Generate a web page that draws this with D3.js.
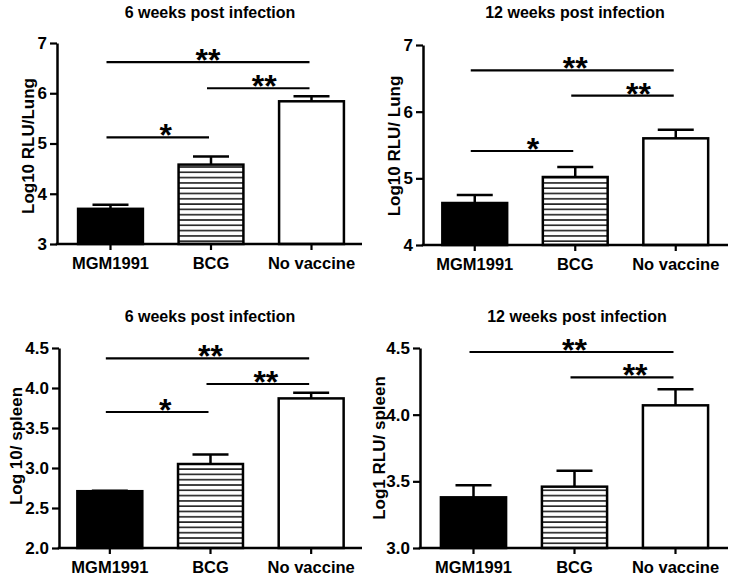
<!DOCTYPE html>
<html>
<head>
<meta charset="utf-8">
<script src="https://cdn.jsdelivr.net/npm/d3@7"></script>
<style>
  html, body { margin: 0; padding: 0; background: #fff; }
  svg { display: block; }
  text { font-family: "Liberation Sans", Arial, sans-serif; font-weight: bold; fill: #000; }
</style>
</head>
<body>
<svg id="chart" width="735" height="578"></svg>
<script>
// ---------- data ----------
const categories = ["MGM1991", "BCG", "No vaccine"];
const titles = ["6 weeks post infection", "12 weeks post infection", "6 weeks post infection", "12 weeks post infection"];
const yLabels = ["Log10 RLU/Lung", "Log10 RLU/ Lung", "Log 10/ spleen", "Log1 RLU/ spleen"];

const lung6Mean = [3.70, 4.58, 5.84];
const lung6Err  = [0.08, 0.16, 0.10];
const lung12Mean = [4.63, 5.02, 5.60];
const lung12Err  = [0.12, 0.15, 0.13];
const spleen6Mean = [2.71, 3.05, 3.87];
const spleen6Err  = [0.005, 0.12, 0.07];
const spleen12Mean = [3.38, 3.46, 4.07];
const spleen12Err  = [0.09, 0.12, 0.12];

const lung6Ticks = [3, 4, 5, 6, 7];
const lung12Ticks = [4, 5, 6, 7];
const spleen6Ticks = [2.0, 2.5, 3.0, 3.5, 4.0, 4.5];
const spleen12Ticks = [3.0, 3.5, 4.0, 4.5];

// significance brackets: from/to category index, level (data units), label, label position (category index units)
const lung6Sig = [
  { from: 0, to: 2, level: 6.62, label: "**", at: 0.97 },
  { from: 1, to: 2, level: 6.10, label: "**", at: 1.53 },
  { from: 0, to: 1, level: 5.12, label: "*",  at: 0.55 }
];
const lung12Sig = [
  { from: 0, to: 2, level: 6.62, label: "**", at: 1.0 },
  { from: 1, to: 2, level: 6.24, label: "**", at: 1.63 },
  { from: 0, to: 1, level: 5.41, label: "*",  at: 0.58 }
];
const spleen6Sig = [
  { from: 0, to: 2, level: 4.37, label: "**", at: 1.0 },
  { from: 1, to: 2, level: 4.05, label: "**", at: 1.55 },
  { from: 0, to: 1, level: 3.70, label: "*",  at: 0.55 }
];
const spleen12Sig = [
  { from: 0, to: 2, level: 4.47, label: "**", at: 1.0 },
  { from: 1, to: 2, level: 4.28, label: "**", at: 1.6 }
];

// ---------- layout ----------
const svg = d3.select("#chart");
const defs = svg.append("defs");
const pat = defs.append("pattern")
  .attr("id", "hatch").attr("patternUnits", "userSpaceOnUse")
  .attr("width", 10).attr("height", 5.3);
pat.append("rect").attr("width", 10).attr("height", 5.3).attr("fill", "#fff");
pat.append("rect").attr("y", 2).attr("width", 10).attr("height", 1.4).attr("fill", "#000");

const fills = ["#000", "url(#hatch)", "#fff"];

const panels = [
  { mean: lung6Mean, err: lung6Err, sig: lung6Sig, ticks: lung6Ticks, fmt: d3.format("d"),
    dom: [3, 7], ax: 57, axEnd: 362, yB: 244, yT: 43, band: [60.25, 361.75],
    titleX: 210, titleY: 18, ylX: 34, ylY: 146, title: titles[0], yl: yLabels[0] },
  { mean: lung12Mean, err: lung12Err, sig: lung12Sig, ticks: lung12Ticks, fmt: d3.format("d"),
    dom: [4, 7], ax: 423, axEnd: 728, yB: 245, yT: 45, band: [424.5, 726],
    titleX: 575, titleY: 18, ylX: 400, ylY: 146, title: titles[1], yl: yLabels[1] },
  { mean: spleen6Mean, err: spleen6Err, sig: spleen6Sig, ticks: spleen6Ticks, fmt: d3.format(".1f"),
    dom: [2, 4.5], ax: 59, axEnd: 362, yB: 548, yT: 348, band: [59.5, 361.5],
    titleX: 210, titleY: 322, ylX: 22, ylY: 446, title: titles[2], yl: yLabels[2] },
  { mean: spleen12Mean, err: spleen12Err, sig: spleen12Sig, ticks: spleen12Ticks, fmt: d3.format(".1f"),
    dom: [3, 4.5], ax: 420, axEnd: 728, yB: 548, yT: 348, band: [423, 726],
    titleX: 577, titleY: 322, ylX: 385, ylY: 448, title: titles[3], yl: yLabels[3] }
];

panels.forEach(p => {
  const g = svg.append("g");
  const y = d3.scaleLinear().domain(p.dom).range([p.yB, p.yT]);
  const x = d3.scaleBand().domain(categories).range(p.band)
    .paddingInner(0.33).paddingOuter(0.165);
  const cx = i => x(categories[i]) + x.bandwidth() / 2;
  const step = x.step();
  const xAt = v => cx(0) + v * step;

  // error bars (upper only)
  const eb = g.append("g").attr("stroke", "#000").attr("stroke-width", 2.5).attr("fill", "none");
  categories.forEach((c, i) => {
    const top = y(p.mean[i] + p.err[i]);
    eb.append("line").attr("x1", cx(i)).attr("x2", cx(i)).attr("y1", y(p.mean[i])).attr("y2", top);
    eb.append("line").attr("x1", cx(i) - 18).attr("x2", cx(i) + 18).attr("y1", top).attr("y2", top);
  });

  // bars
  g.append("g").selectAll("rect").data(categories).join("rect")
    .attr("x", d => x(d) + 1.25)
    .attr("width", x.bandwidth() - 2.5)
    .attr("y", (d, i) => y(p.mean[i]))
    .attr("height", (d, i) => p.yB - y(p.mean[i]))
    .attr("fill", (d, i) => fills[i])
    .attr("stroke", "#000").attr("stroke-width", 2.5);

  // y axis
  const yAxis = d3.axisLeft(y).tickValues(p.ticks).tickFormat(p.fmt).tickSize(7).tickSizeOuter(0).tickPadding(3);
  const ga = g.append("g").attr("transform", `translate(${p.ax},0)`).call(yAxis);
  ga.select(".domain").attr("stroke-width", 2.5);
  ga.selectAll(".tick line").attr("stroke-width", 2.2);
  ga.selectAll(".tick text").attr("font-size", 17).attr("font-family", "Liberation Sans, Arial, sans-serif").attr("font-weight", "bold");

  // x axis
  g.append("line").attr("x1", p.ax - 1.25).attr("x2", p.axEnd).attr("y1", p.yB).attr("y2", p.yB)
    .attr("stroke", "#000").attr("stroke-width", 2.5);
  const xAxis = d3.axisBottom(x).tickSize(6).tickSizeOuter(0).tickPadding(7);
  const gx = g.append("g").attr("transform", `translate(0,${p.yB})`).call(xAxis);
  gx.select(".domain").remove();
  gx.selectAll(".tick line").attr("stroke-width", 2.2);
  gx.selectAll(".tick text").attr("font-size", 16.5).attr("font-family", "Liberation Sans, Arial, sans-serif").attr("font-weight", "bold");

  // significance brackets
  p.sig.forEach(s => {
    const yy = y(s.level);
    g.append("line").attr("x1", cx(s.from) - 4).attr("x2", cx(s.to) - 2)
      .attr("y1", yy).attr("y2", yy).attr("stroke", "#000").attr("stroke-width", 2.2);
    g.append("text").attr("x", xAt(s.at)).attr("y", yy + 9)
      .attr("text-anchor", "middle").attr("font-size", 32).text(s.label);
  });

  // title
  g.append("text").attr("x", p.titleX).attr("y", p.titleY).attr("text-anchor", "middle")
    .attr("font-size", 16).text(p.title);

  // y label
  g.append("text").attr("transform", `translate(${p.ylX},${p.ylY}) rotate(-90)`)
    .attr("text-anchor", "middle").attr("font-size", 17).text(p.yl);
});
</script>
</body>
</html>
